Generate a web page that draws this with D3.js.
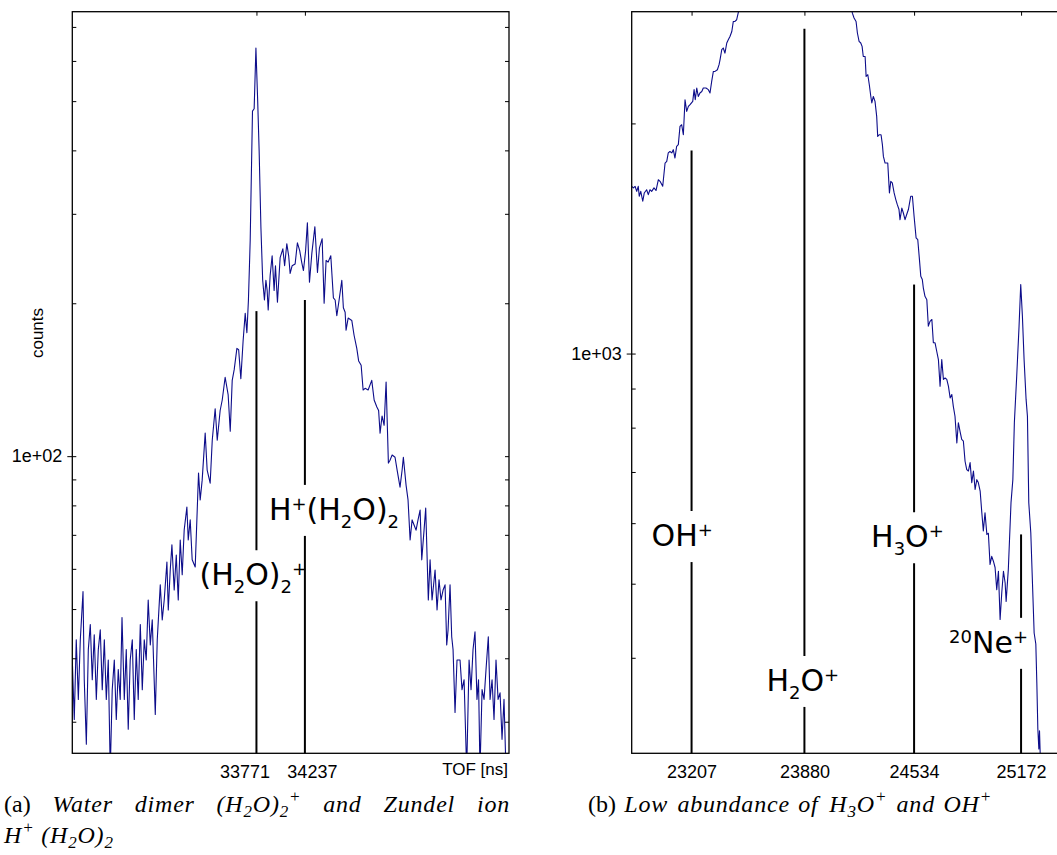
<!DOCTYPE html>
<html>
<head>
<meta charset="utf-8">
<script src="https://cdn.jsdelivr.net/npm/d3@7"></script>
<style>
  body { margin: 0; background: #fff; }
  svg { display: block; }
  .axis text { font-family: "Liberation Sans", Arial, sans-serif; font-size: 18px; fill: #000; }
  .axis line { stroke: #000; }
  .peak { font-family: "DejaVu Sans", sans-serif; font-size: 30px; }
  .caption { font-family: "Liberation Serif", "Times New Roman", serif; font-size: 24px; }
  .label { font-family: "Liberation Sans", Arial, sans-serif; font-size: 17px; }
</style>
</head>
<body>
<svg id="chart" width="1057" height="855"></svg>
<script>
// ---- panel (a): water dimer and Zundel ion ----
const tofTicksA = [33771, 34237];
const minorCountsA = [30, 40, 50, 60, 70, 80, 90, 200, 300, 400, 500, 600, 700];
const majorCountsA = [100];
const peakTofA = [33771, 34237];
const peakTopA = [193, 203];          // counts where the marker line starts
const peakLabelAtA = [55.7, 74.9];    // counts at the label baseline
const peakLabelsA = [
  [["(H", ""], ["2", "sub"], ["O)", ""], ["2", "sub"], ["+", "sup"]],
  [["H", ""], ["+", "sup"], ["(H", ""], ["2", "sub"], ["O)", ""], ["2", "sub"]]
];
// [TOF ns, counts]
const spectrumA = [
  [32000,39.7],[32019,30.3],[32038,43.5],[32058,33.2],[32077,43.5],[32103,54.1],[32115,36.3],[32135,27.1],
  [32154,41.6],[32173,46.6],[32192,36.3],[32211,44.5],[32231,33.2],[32250,41.6],[32269,45.5],[32288,34.7],
  [32308,43.5],[32327,33.2],[32346,39.7],[32365,24],[32384,34.7],[32404,39.7],[32423,30.3],[32442,38.0],
  [32461,33.2],[32478,48.1],[32500,33.2],[32519,41.6],[32538,29.0],[32557,39.7],[32577,43.5],[32596,30.3],
  [32615,41.6],[32634,33.2],[32654,46.6],[32673,34.7],[32692,43.5],[32711,39.7],[32730,52.1],[32750,42.5],
  [32769,47.6],[32798,31.0],[32817,43.5],[32846,55.8],[32865,47.6],[32884,52.1],[32910,61.9],[32923,49.8],
  [32942,59.7],[32958,66.9],[32980,54.5],[33000,63.9],[33019,52.1],[33038,68.4],[33057,58.4],[33076,71.5],
  [33102,79.4],[33115,68.4],[33134,74.9],[33153,62.5],[33182,60.5],[33214,92.6],[33230,82.0],[33249,89.7],
  [33278,111],[33297,93.9],[33326,88.5],[33346,107.5],[33374,124],[33394,107.5],[33422,123],[33442,129],
  [33470,143],[33499,132],[33519,112],[33538,141],[33557,148],[33583,163],[33600,162],[33621,142],
  [33643,169],[33663,191],[33679,175],[33694,203],[33711,266],[33733,478],[33749,483],[33766,636],
  [33783,500],[33797,399],[33814,282],[33831,222],[33848,203],[33862,222],[33874,212],[33884,194],
  [33903,227],[33922,248],[33941,212],[33954,237],[33973,201],[33999,246],[34025,256],[34042,237],
  [34063,262],[34081,248],[34095,229],[34114,237],[34143,239],[34165,263],[34187,254],[34206,241],
  [34223,232],[34244,254],[34261,288],[34281,220],[34304,251],[34333,283],[34358,230],[34377,257],
  [34403,268],[34422,200],[34441,243],[34460,241],[34486,248],[34511,205],[34528,203],[34544,189],
  [34566,203],[34592,222],[34607,196],[34624,192],[34633,177],[34653,187],[34688,185],[34710,173],
  [34736,163],[34754,154],[34778,151],[34797,135],[34816,136],[34845,135],[34880,141],[34903,129],
  [34929,125],[34946,123],[34960,111],[34979,120],[34999,115],[35018,140],[35040,96.9],[35056,98.2],
  [35076,100.5],[35104,99.5],[35124,93.9],[35152,86.9],[35172,93.9],[35184,99.5],[35210,87.7],[35229,82.0],
  [35249,68.4],[35268,74.9],[35287,73.2],[35306,71.5],[35325,74.9],[35345,78.3],[35361,62.5],[35383,71.5],
  [35399,79.0],[35424,52.1],[35441,62.5],[35460,52.1],[35489,59.7],[35508,49.8],[35527,57.1],[35546,52.1],
  [35566,54.5],[35585,55.8],[35601,42.5],[35614,45.5],[35633,55.8],[35649,44.1],[35662,41.6],[35681,31.3],
  [35700,39.7],[35729,39.7],[35748,34.7],[35768,36.3],[35793,24],[35816,39.7],[35835,34.7],[35854,41.6],
  [35873,45.1],[35892,33.2],[35907,36.3],[35921,24],[35941,34.7],[35960,33.2],[35979,38.0],[36001,44.1],
  [36018,33.2],[36037,36.3],[36056,30.3],[36075,39.7],[36095,33.2],[36114,34.2],[36133,27.7],[36152,33.2],
  [36171,24],[36193,24]
];

// ---- panel (b): H3O+ and OH+ ----
const tofTicksB = [23207, 23880, 24534, 25172];
const minorCountsB = [400, 500, 600, 700, 800, 900, 2000];
const majorCountsB = [1000];
const peakTofB = [23207, 23880, 24534, 25172];
const peakTopB = [1844, 2660, 1231, 580];
const peakLabelAtB = [560, 362, 558, 406];
const peakLabelsB = [
  [["OH", ""], ["+", "sup"]],
  [["H", ""], ["2", "sub"], ["O", ""], ["+", "sup"]],
  [["H", ""], ["3", "sub"], ["O", ""], ["+", "sup"]],
  [["20", "sup"], ["Ne", ""], ["+", "sup"]]
];
const spectrumB = [
  [22850,1655],[22860,1647],[22870,1655],[22880,1630],[22889,1655],[22895,1606],[22904,1630],[22916,1582],
  [22925,1622],[22939,1638],[22949,1614],[22959,1638],[22969,1630],[22983,1647],[22995,1634],[23009,1688],
  [23019,1680],[23035,1655],[23049,1775],[23059,1784],[23068,1830],[23078,1838],[23089,1830],[23098,1848],
  [23108,1802],[23118,1866],[23128,1876],[23138,1982],[23148,1992],[23158,1933],[23168,2148],[23178,2074],
  [23188,2105],[23198,2116],[23214,2137],[23222,2214],[23229,2148],[23238,2225],[23247,2169],[23257,2192],
  [23268,2202],[23277,2225],[23293,2225],[23307,2214],[23317,2192],[23327,2270],[23337,2339],[23347,2339],
  [23361,2351],[23371,2387],[23377,2423],[23387,2497],[23396,2510],[23406,2472],[23417,2548],[23426,2573],
  [23436,2599],[23447,2638],[23456,2719],[23466,2719],[23476,2733],[23487,2800],
  [23540,3100],[23650,3700],[23800,4200],[23950,4300],[24080,3600],[24150,2900],
  [24166,2788],[24176,2747],[24188,2719],[24196,2626],[24206,2560],[24216,2548],[24224,2522],[24231,2447],
  [24242,2447],[24248,2304],[24258,2316],[24267,2247],[24276,2169],[24282,2127],[24291,2169],[24301,2137],
  [24311,2043],[24317,1923],[24327,1933],[24337,1933],[24345,1876],[24351,1811],[24361,1775],[24377,1775],
  [24387,1622],[24395,1680],[24404,1672],[24415,1622],[24425,1590],[24434,1566],[24444,1543],[24450,1497],
  [24461,1550],[24470,1527],[24480,1497],[24490,1520],[24500,1543],[24514,1606],[24524,1606],[24534,1512],
  [24546,1417],[24556,1409],[24566,1327],[24574,1262],[24583,1250],[24589,1219],[24599,1188],[24610,1176],
  [24619,1086],[24629,1102],[24640,1108],[24649,1033],[24659,1033],[24669,1007],[24679,982],[24689,906],
  [24699,982],[24709,925],[24719,929],[24729,925],[24739,906],[24749,875],[24759,884],[24768,853],
  [24778,828],[24789,764],[24798,812],[24808,791],[24818,772],[24828,768],[24838,723],[24848,705],
  [24858,702],[24868,720],[24878,678],[24888,702],[24898,664],[24908,684],[24917,678],[24928,661],
  [24938,619],[24947,586],[24957,619],[24968,580],[24977,582],[24987,530],[24997,543],[25007,535],
  [25017,525],[25027,491],[25037,519],[25047,449],[25057,487],[25067,519],[25077,501],[25083,474],
  [25096,522],[25112,638],[25123,684],[25132,812],[25146,934],[25160,1086],[25170,1231],[25180,1119],
  [25190,982],[25202,871],[25210,828],[25218,638],[25230,583],[25240,501],[25250,431],[25260,417],
  [25266,371],[25272,323],[25278,304],[25282,321],[25288,290]
];

// ---- captions ----
const captionA1 = [
  [["(a)", "up"]], [["Water", ""]], [["dimer", ""]],
  [["(H", ""], ["2", "sub"], ["O)", ""], ["2", "sub"], ["+", "sup"]],
  [["and", ""]], [["Zundel", ""]], [["ion", ""]]
];
const captionA2 = [[["H", ""], ["+", "sup"], [" (H", ""], ["2", "sub"], ["O)", ""], ["2", "sub"]]];
const captionB = [
  [["(b)", "up"]], [["Low", ""]], [["abundance", ""]], [["of", ""]],
  [["H", ""], ["3", "sub"], ["O", ""], ["+", "sup"]],
  [["and", ""]], [["OH", ""], ["+", "sup"]]
];

const svg = d3.select("#chart");
const plotTop = 11.7, plotBottom = 753.3;

// writes text pieces with sub/superscripts as tspans
function rich(text, pieces, o) {
  let shift = 0;
  pieces.forEach(function(p) {
    const kind = p[1];
    const target = kind === "sub" ? o.sub : kind === "sup" ? -o.sup : 0;
    const small = kind === "sub" || kind === "sup";
    const ts = text.append("tspan")
      .attr("dy", target - shift)
      .attr("font-size", small ? o.small : o.size)
      .text(p[0]);
    if (kind === "up") ts.attr("font-style", "normal").attr("letter-spacing", 0);
    shift = target;
  });
}

function panel(p) {
  const x = d3.scaleLinear().domain(p.tofDomain).range(p.xRange);
  const y = d3.scaleLog().domain(p.countDomain).range([plotBottom, plotTop]);
  const g = svg.append("g");
  const x0 = p.xRange[0], x1 = p.xRange[1];

  g.append("clipPath").attr("id", p.id + "-clip")
    .append("rect")
      .attr("x", x0).attr("y", plotTop)
      .attr("width", x1 - x0).attr("height", plotBottom - plotTop);

  // marker lines, broken where the label sits
  p.peakTof.forEach(function(t, i) {
    const base = y(p.labelAt[i]);
    [[y(p.peakTop[i]), base - 35], [base + 16, plotBottom]].forEach(function(seg) {
      g.append("line")
        .attr("x1", x(t)).attr("x2", x(t))
        .attr("y1", seg[0]).attr("y2", seg[1])
        .attr("stroke", "#000").attr("stroke-width", 2);
    });
    const label = g.append("text")
      .attr("class", "peak")
      .attr("x", x(t) + p.labelShift[i])
      .attr("y", base);
    rich(label, p.labels[i], {size: 30, small: 18, sub: 8, sup: 10});
  });

  g.append("path")
    .datum(p.spectrum)
    .attr("clip-path", "url(#" + p.id + "-clip)")
    .attr("fill", "none")
    .attr("stroke", "#0d0d8a")
    .attr("stroke-width", 1.1)
    .attr("stroke-linejoin", "round")
    .attr("d", d3.line().x(function(d) { return x(d[0]); }).y(function(d) { return y(d[1]); }));

  g.append("rect")
    .attr("x", x0).attr("y", plotTop)
    .attr("width", x1 - x0).attr("height", plotBottom - plotTop)
    .attr("fill", "none").attr("stroke", "#000").attr("stroke-width", 1.3);

  const noDomain = function(s) { s.select(".domain").remove(); };

  g.append("g").attr("class", "axis")
    .attr("transform", "translate(" + x0 + ",0)")
    .call(d3.axisLeft(y).tickValues(p.minor.concat(p.major)).tickSize(-4).tickFormat(""))
    .call(noDomain);
  g.append("g").attr("class", "axis")
    .attr("transform", "translate(" + x0 + ",0)")
    .call(d3.axisLeft(y).tickValues(p.major).tickSize(5).tickPadding(5)
      .tickFormat(function(d) { return "1e+" + String(Math.round(Math.log10(d))).padStart(2, "0"); }))
    .call(noDomain);
  g.append("g").attr("class", "axis")
    .attr("transform", "translate(" + x1 + ",0)")
    .call(d3.axisRight(y).tickValues(p.minor.concat(p.major)).tickSize(-4).tickFormat(""))
    .call(noDomain);
  g.append("g").attr("class", "axis")
    .attr("transform", "translate(0," + plotTop + ")")
    .call(d3.axisTop(x).tickValues(p.tofTicks).tickSize(-4).tickFormat(""))
    .call(noDomain);
  g.append("g").attr("class", "axis")
    .attr("transform", "translate(0," + plotBottom + ")")
    .call(d3.axisBottom(x).tickValues(p.tofTicks).tickSize(0).tickPadding(12).tickFormat(d3.format("d")))
    .call(noDomain)
    .selectAll("text")
      .attr("dx", function(d, i) { return p.tickNudge ? p.tickNudge[i] : 0; });

  return {x: x, y: y, g: g};
}

const a = panel({
  id: "pa", tofDomain: [32000, 36200], xRange: [72.3, 509], countDomain: [26, 750],
  spectrum: spectrumA, tofTicks: tofTicksA, minor: minorCountsA, major: majorCountsA,
  peakTof: peakTofA, peakTop: peakTopA, labelAt: peakLabelAtA, labels: peakLabelsA,
  labelShift: [-57, -36], tickNudge: [-12, 7]
});
panel({
  id: "pb", tofDomain: [22850, 25434], xRange: [631.7, 1065], countDomain: [300, 2800],
  spectrum: spectrumB, tofTicks: tofTicksB, minor: minorCountsB, major: majorCountsB,
  peakTof: peakTofB, peakTop: peakTopB, labelAt: peakLabelAtB, labels: peakLabelsB,
  labelShift: [-40, -38, -43, -72]
});

a.g.append("text")
  .attr("class", "label")
  .attr("transform", "translate(43,333) rotate(-90)")
  .attr("text-anchor", "middle")
  .text("counts");
a.g.append("text")
  .attr("class", "label")
  .attr("x", 508).attr("y", 775)
  .attr("text-anchor", "end")
  .text("TOF [ns]");

// caption lines: words spread between left and right edge
function captionLine(words, left, right, base) {
  const nodes = words.map(function(w) {
    const t = svg.append("text").attr("class", "caption")
      .attr("font-style", "italic").attr("letter-spacing", 0.8).attr("y", base);
    rich(t, w, {size: 24, small: 17, sub: 5, sup: 10});
    return t;
  });
  const widths = nodes.map(function(t) { return t.node().getBBox().width; });
  const gap = nodes.length > 1 && right !== null
    ? (right - left - d3.sum(widths)) / (nodes.length - 1) : 0;
  let cx = left;
  nodes.forEach(function(t, i) {
    t.attr("x", cx);
    cx += widths[i] + gap;
  });
}

captionLine(captionA1, 4, 510, 812);
captionLine(captionA2, 4, null, 843);
captionLine(captionB, 588, 992, 812);
</script>
</body>
</html>
